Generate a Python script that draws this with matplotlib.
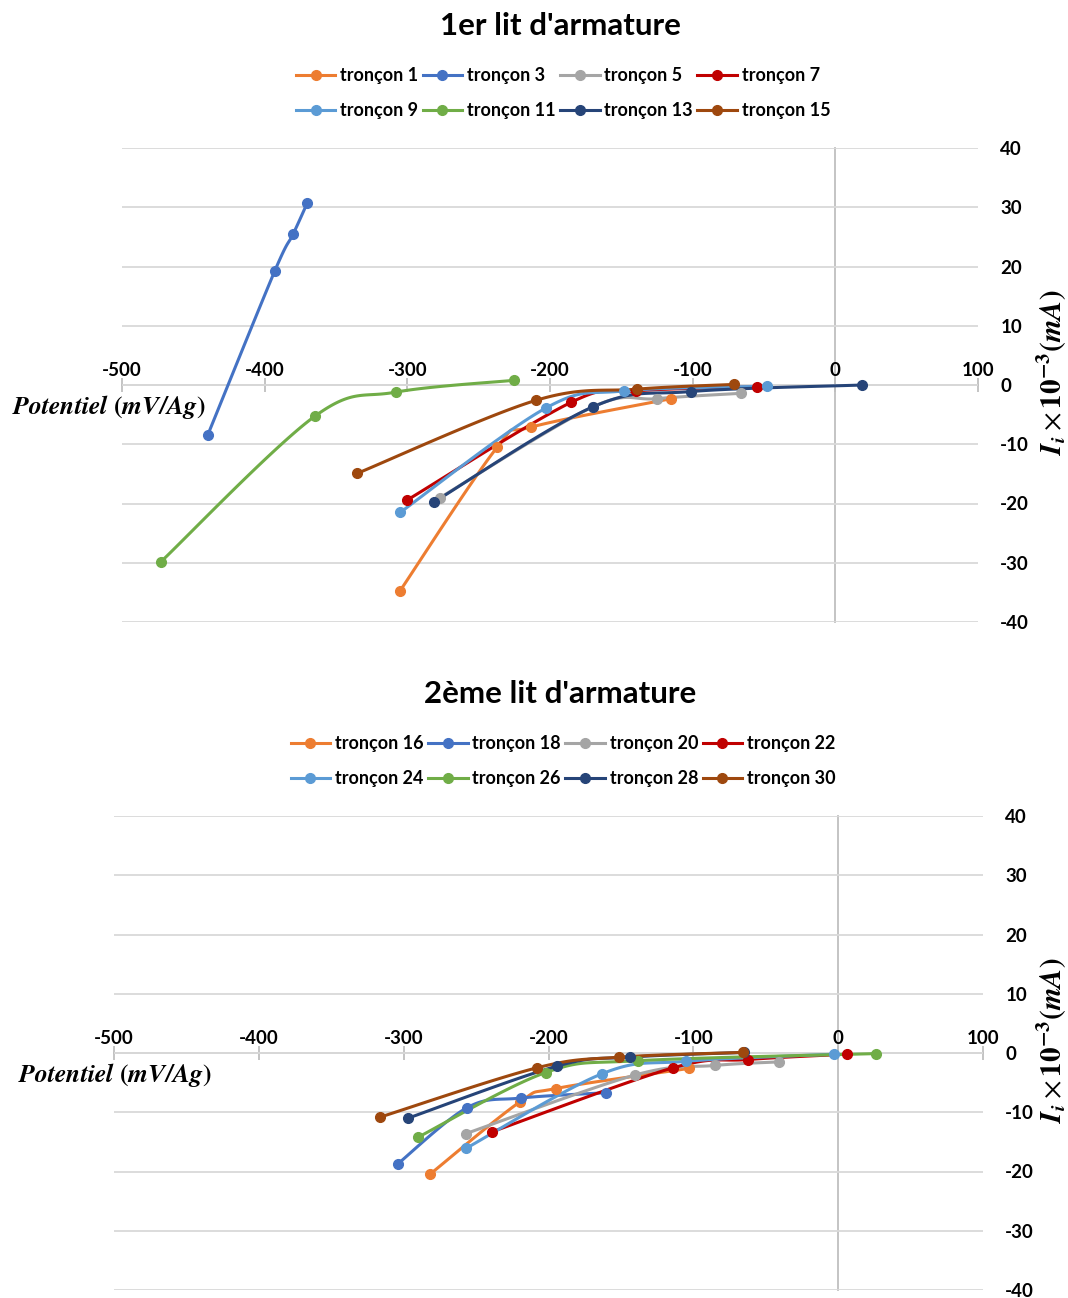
import numpy as np
import matplotlib
matplotlib.use("Agg")
import matplotlib.pyplot as plt
from matplotlib.lines import Line2D

plt.rcParams['font.family'] = ['Lato', 'DejaVu Sans']
plt.rcParams['mathtext.fontset'] = 'stix'
plt.rcParams['axes.unicode_minus'] = False

# ---------------- data: 1er lit d'armature ----------------
labels1 = ["tronçon 1", "tronçon 3", "tronçon 5", "tronçon 7",
           "tronçon 9", "tronçon 11", "tronçon 13", "tronçon 15"]
t1_x = [-305, -237, -213, -115]
t1_y = [-34.7, -10.5, -7.1, -2.3]
t3_x = [-440, -393, -380, -370]
t3_y = [-8.5, 19.2, 25.5, 30.8]
t5_x = [-277, -170, -125, -66]
t5_y = [-19.0, -3.7, -2.3, -1.4]
t7_x = [-300, -185, -140, -55]
t7_y = [-19.4, -2.9, -1.0, -0.3]
t9_x = [-305, -203, -148, -48]
t9_y = [-21.5, -3.9, -1.0, -0.2]
t11_x = [-473, -365, -308, -225]
t11_y = [-29.9, -5.3, -1.2, 0.8]
t13_x = [-281, -170, -101, 19]
t13_y = [-19.7, -3.7, -1.1, 0.0]
t15_x = [-335, -210, -139, -71]
t15_y = [-14.9, -2.6, -0.7, 0.1]

# ---------------- data: 2ème lit d'armature ----------------
labels2 = ["tronçon 16", "tronçon 18", "tronçon 20", "tronçon 22",
           "tronçon 24", "tronçon 26", "tronçon 28", "tronçon 30"]
t16_x = [-282, -220, -195, -103]
t16_y = [-20.5, -8.3, -6.0, -2.6]
t18_x = [-304, -256, -219, -160]
t18_y = [-18.7, -9.2, -7.6, -6.7]
t20_x = [-257, -140, -85, -41]
t20_y = [-13.6, -3.7, -2.1, -1.5]
t22_x = [-239, -114, -62, 6]
t22_y = [-13.3, -2.5, -1.1, -0.2]
t24_x = [-257, -163, -105, -3]
t24_y = [-16.1, -3.5, -1.4, -0.2]
t26_x = [-290, -202, -138, 26]
t26_y = [-14.2, -3.3, -1.3, -0.1]
t28_x = [-297, -194, -144, -65]
t28_y = [-11.0, -2.2, -0.7, 0.1]
t30_x = [-316, -208, -151, -66]
t30_y = [-10.8, -2.5, -0.7, 0.1]

x_ticks = [-500, -400, -300, -200, -100, 0, 100]
y_ticks = [-40, -30, -20, -10, 0, 10, 20, 30, 40]

colors = ["#ED7D31", "#4472C4", "#A5A5A5", "#C00000",
          "#5B9BD5", "#70AD47", "#264478", "#9E480E"]

series1 = [(t1_x, t1_y), (t3_x, t3_y), (t5_x, t5_y), (t7_x, t7_y),
           (t9_x, t9_y), (t11_x, t11_y), (t13_x, t13_y), (t15_x, t15_y)]
series2 = [(t16_x, t16_y), (t18_x, t18_y), (t20_x, t20_y), (t22_x, t22_y),
           (t24_x, t24_y), (t26_x, t26_y), (t28_x, t28_y), (t30_x, t30_y)]


def smooth(x, y, n=40):
    """Excel-like smoothed line (Catmull-Rom Bezier)."""
    P = np.column_stack([x, y]).astype(float)
    out = [P[0]]
    t = np.linspace(0, 1, n)[1:]
    for i in range(len(P) - 1):
        p0 = P[i - 1] if i > 0 else P[i]
        p1, p2 = P[i], P[i + 1]
        p3 = P[i + 2] if i + 2 < len(P) else P[i + 1]
        c1 = p1 + (p2 - p0) / 6.0
        c2 = p2 - (p3 - p1) / 6.0
        B = (((1 - t) ** 3)[:, None] * p1 + (3 * (1 - t) ** 2 * t)[:, None] * c1
             + (3 * (1 - t) * t ** 2)[:, None] * c2 + (t ** 3)[:, None] * p2)
        out.extend(B)
    out = np.array(out)
    return out[:, 0], out[:, 1]


W, H = 1068, 1298
fig = plt.figure(figsize=(W / 100, H / 100), dpi=100)

grid_c = "#D9D9D9"
axis_c = "#BFBFBF"
txt_c = "#000000"


def make_chart(rect, series, labels, title, title_y, leg_y, ylab_y, pot_xy):
    ax = fig.add_axes(rect)
    for (x, y), c in zip(series, colors):
        sx, sy = smooth(x, y)
        ax.plot(sx, sy, color=c, lw=2.2, solid_capstyle='round', zorder=3)
        ax.plot(x, y, ls='none', marker='o', ms=7, color=c, zorder=4)
    ax.set_xlim(-500, 100)
    ax.set_ylim(-40, 40)
    ax.set_yticks(y_ticks)
    ax.set_xticks(x_ticks)
    ax.grid(axis='y', color=grid_c, lw=1.3, zorder=0)
    ax.grid(axis='x', visible=False)
    for s in ['right', 'bottom']:
        ax.spines[s].set_visible(False)
    ax.spines['left'].set_position(('data', 0))
    ax.spines['left'].set_color(axis_c)
    ax.spines['left'].set_linewidth(1.3)
    ax.spines['left'].set_zorder(1)
    ax.spines['top'].set_position(('data', 0))
    ax.spines['top'].set_color(axis_c)
    ax.spines['top'].set_linewidth(1.3)
    ax.spines['top'].set_zorder(1)
    ax.xaxis.set_ticks_position('top')
    ax.xaxis.set_label_position('top')
    ax.tick_params(axis='x', direction='inout', length=10, width=1.3,
                   color=axis_c, pad=-1, labelsize=13.5, labelcolor=txt_c)
    ax.yaxis.set_ticks_position('right')
    ax.tick_params(axis='y', length=0, pad=16, labelsize=13.5, labelcolor=txt_c)
    for lab in ax.get_xticklabels() + ax.get_yticklabels():
        lab.set_fontweight('bold')
    for lab in ax.get_yticklabels():
        lab.set_va('center_baseline')
    ax.set_facecolor('none')

    fig.text(560 / W, 1 - title_y / H, title, ha='center', va='center',
             fontsize=22.5, fontweight='bold', color=txt_c)
    handles = [Line2D([0], [0], color=c, lw=2.2, marker='o', ms=7) for c in colors]
    order = [0, 4, 1, 5, 2, 6, 3, 7]
    fig.legend([handles[i] for i in order], [labels[i] for i in order],
               loc='center', bbox_to_anchor=(563 / W, 1 - leg_y / H),
               ncol=4, frameon=False, prop={'weight': 'bold', 'size': 13},
               handlelength=2.2, handletextpad=0.25, columnspacing=0.25,
               labelspacing=1.0, borderpad=0)
    fig.text(1052 / W, 1 - ylab_y / H,
             r'$\mathbfit{I_i}\times\mathbf{10^{-3}(}\mathbfit{mA}\mathbf{)}$',
             rotation=90, ha='center', va='center', fontsize=21, color=txt_c)
    fig.text(pot_xy[0] / W, 1 - pot_xy[1] / H,
             r'$\mathbfit{Potentiel}\ \mathbf{(}\mathbfit{mV/Ag}\mathbf{)}$',
             ha='left', va='center', fontsize=18.5, color=txt_c)
    return ax


make_chart([122 / W, 1 - 622 / H, (978 - 122) / W, (622 - 148) / H],
           series1, labels1, "1er lit d'armature", 26, 93, 372, (12, 407))
make_chart([114 / W, 1 - 1290 / H, (983 - 114) / W, (1290 - 816) / H],
           series2, labels2, "2ème lit d'armature", 694, 761, 1040, (18, 1075))

fig.savefig("out.png", dpi=100)
